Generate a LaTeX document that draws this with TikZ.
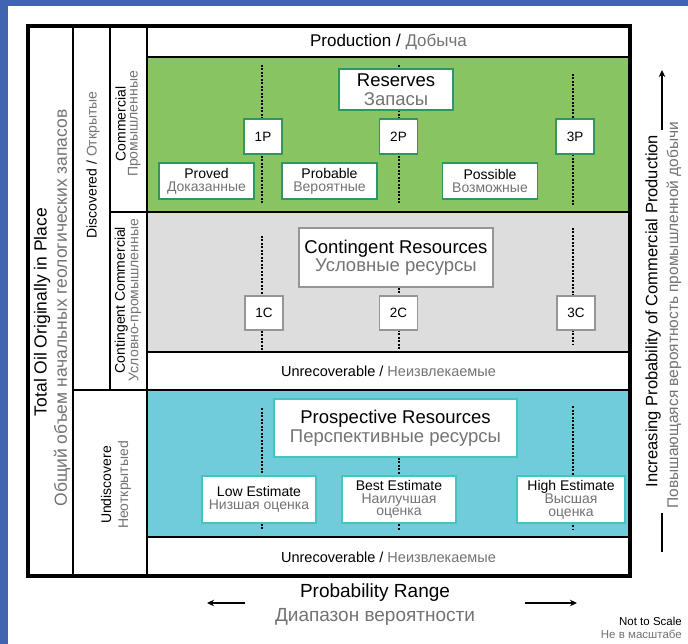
\documentclass[tikz,border=0pt]{standalone}
\usepackage{fontspec}
\setmainfont{Liberation Sans}
\usetikzlibrary{arrows.meta}
\definecolor{slideblue}{RGB}{64,100,175}
\definecolor{resgreen}{RGB}{137,196,98}
\definecolor{resedge}{RGB}{46,150,100}
\definecolor{congray}{RGB}{221,221,221}
\definecolor{conedge}{RGB}{150,150,150}
\definecolor{procyan}{RGB}{112,204,216}
\definecolor{proedge}{RGB}{70,195,195}
\definecolor{ru}{RGB}{115,115,115}
\newcommand\setfs[2]{\fontsize{#1pt}{#2pt}\selectfont}

\begin{document}
\begin{tikzpicture}[x=1pt,y=-1pt,
  grid/.style={line width=2.5pt},
  frame/.style={line width=3.2pt},
  label/.style={inner sep=0pt, align=center},
  box/.style={draw, fill=white, line width=1.6pt, inner sep=0pt, align=center},
  gbox/.style={box, draw=resedge},
  cbox/.style={box, draw=conedge},
  pbox/.style={box, draw=proedge},
  tagbox/.style={minimum width=38pt, minimum height=35pt, font=\setfs{13.5}{13}},
  catbox/.style={minimum width=95pt, minimum height=36pt, font=\setfs{14}{13}},
  estbox/.style={minimum height=47pt, font=\setfs{14}{12.5}},
  bigbox/.style={font=\setfs{18.5}{18.5}},
  dots/.style={line width=2.7pt, dash pattern=on 2pt off 1.5pt},
  arr/.style={line width=2.2pt, -{Stealth[length=7pt,width=6.5pt]}},
  vtext/.style={label, rotate=90}
]
\useasboundingbox (0,0) rectangle (688,644);
\fill[white] (0,0) rectangle (688,644);

% slide border
\fill[slideblue] (0,0) rectangle (8,644);
\fill[slideblue] (0,0) rectangle (688,6);

% class bands
\fill[resgreen] (147,57) rectangle (630,212);
\fill[congray] (147,212) rectangle (630,352);
\fill[procyan] (147,390) rectangle (630,537);

% range guides
\coordinate (r1t) at (262,65);  \coordinate (r1b) at (262,205);
\coordinate (r2t) at (399,65);  \coordinate (r2b) at (399,205);
\coordinate (r3t) at (573,74);  \coordinate (r3b) at (573,205);
\coordinate (c1t) at (262,236); \coordinate (c1b) at (262,350);
\coordinate (c2b) at (399,350);
\coordinate (c3t) at (573,228); \coordinate (c3b) at (573,344);
\coordinate (e1t) at (262,408); \coordinate (e1b) at (262,530);
\coordinate (e2b) at (399,530);
\coordinate (e3t) at (573,406); \coordinate (e3b) at (573,530);

\draw[dots] (r1t) -- (r1b);
\draw[dots] (r2t) -- (r2b);
\draw[dots] (r3t) -- (r3b);
\draw[dots] (c1t) -- (c1b);
\draw[dots] (c3t) -- (c3b);
\draw[dots] (e1t) -- (e1b);
\draw[dots] (e3t) -- (e3b);

% reserves
\node[gbox, bigbox, minimum width=114pt, minimum height=41pt] (res) at (396,89.5)
  {Reserves\\\textcolor{ru}{Запасы}};
\node[gbox, tagbox] (p1) at (263,136.5) {1P};
\node[gbox, tagbox] (p2) at (398.5,136.5) {2P};
\node[gbox, tagbox] (p3) at (575,136.5) {3P};
\node[gbox, catbox] (proved) at (206.5,181) {Proved\\\textcolor{ru}{Доказанные}};
\node[gbox, catbox] (probable) at (329.5,181) {Probable\\\textcolor{ru}{Вероятные}};
\node[gbox, catbox] (possible) at (490,181) {Possible\\\textcolor{ru}{Возможные}};

% contingent resources
\node[cbox, bigbox, minimum width=194pt, minimum height=59pt] (con) at (396,257.5)
  {Contingent Resources\\\textcolor{ru}{Условные ресурсы}};
\draw[dots] (con.south -| c2b) -- (c2b);
\node[cbox, tagbox, minimum height=34pt] (k1) at (264,313) {1C};
\node[cbox, tagbox, minimum height=34pt] (k2) at (398.5,313) {2C};
\node[cbox, tagbox, minimum height=34pt] (k3) at (576,313) {3C};

% prospective resources
\node[pbox, bigbox, minimum width=243pt, minimum height=58pt] (pro) at (395.5,428)
  {Prospective Resources\\\textcolor{ru}{Перспективные ресурсы}};
\draw[dots] (pro.south -| e2b) -- (e2b);
\node[pbox, estbox, minimum width=114pt] (low) at (259,499.5)
  {Low Estimate\\\textcolor{ru}{Низшая оценка}};
\node[pbox, estbox, minimum width=114pt] (best) at (399,499.5)
  {Best Estimate\\\textcolor{ru}{Наилучшая}\\\textcolor{ru}{оценка}};
\node[pbox, estbox, minimum width=108pt] (high) at (571,499.5)
  {High Estimate\\\textcolor{ru}{Высшая}\\\textcolor{ru}{оценка}};

% table grid
\draw[frame] (28,26) rectangle (630,576);
\draw[grid] (73,26) -- (73,576);
\draw[grid] (110,26) -- (110,390);
\draw[grid] (147,26) -- (147,576);
\draw[grid] (147,57) -- (630,57);
\draw[grid] (110,212) -- (630,212);
\draw[grid] (147,352) -- (630,352);
\draw[grid] (73,390) -- (630,390);
\draw[grid] (147,537) -- (630,537);

% row labels
\node[label, font=\setfs{17}{17}] (prod) at (388.5,41.5) {Production / \textcolor{ru}{Добыча}};
\node[label, font=\setfs{14.5}{14}] (unrec1) at (388.5,371) {Unrecoverable / \textcolor{ru}{Неизвлекаемые}};
\node[label, font=\setfs{14.5}{14}] (unrec2) at (388.5,557) {Unrecoverable / \textcolor{ru}{Неизвлекаемые}};

% column labels
\node[vtext, font=\setfs{17.5}{17.5}] (toip) at (42,312) {Total Oil Originally in Place};
\node[vtext, font=\setfs{17.5}{17.5}, text=ru] (toipru) at (62,308) {Общий объем начальных геологических запасов};
\node[vtext, font=\setfs{14}{14}] (disc) at (93,165) {Discovered / \textcolor{ru}{Открытые}};
\node[vtext, font=\setfs{14}{12}] (comm) at (128,124) {Commercial\\\textcolor{ru}{Промышленные}};
\node[vtext, font=\setfs{14}{12}] (cont) at (128,300) {Contingent Commercial\\\textcolor{ru}{Условно-промышленные}};
\node[vtext, font=\setfs{14}{17}] (undisc) at (116,485) {Undiscovere\\\textcolor{ru}{Неоткрытыеd}};

% probability range
\node[label, font=\setfs{19}{19}] (range) at (375,593) {Probability Range};
\node[label, font=\setfs{19}{19}, text=ru] (rangeru) at (375,617) {Диапазон вероятности};
\coordinate (la0) at (245,603); \coordinate (la1) at (207,603);
\coordinate (ra0) at (525,603); \coordinate (ra1) at (577,603);
\draw[arr] (la0) -- (la1);
\draw[arr] (ra0) -- (ra1);

% commercial production axis
\node[vtext, font=\setfs{16.5}{16.5}] (incr) at (653,311) {Increasing Probability of Commercial Production};
\node[vtext, font=\setfs{15.5}{15.5}, text=ru] (incrru) at (674,315) {Повышающаяся вероятность промышленной добычи};
\coordinate (ua0) at (662,130); \coordinate (ua1) at (662,70);
\coordinate (ub0) at (662,513); \coordinate (ub1) at (662,552);
\draw[arr] (ua0) -- (ua1);
\draw[line width=2.2pt] (ub0) -- (ub1);

% scale note
\node[label, anchor=east, font=\setfs{11.5}{11.5}] (scale) at (682,621) {Not to Scale};
\node[label, anchor=east, font=\setfs{11.5}{11.5}, text=ru] (scaleru) at (682,634) {Не в масштабе};
\end{tikzpicture}
\end{document}
